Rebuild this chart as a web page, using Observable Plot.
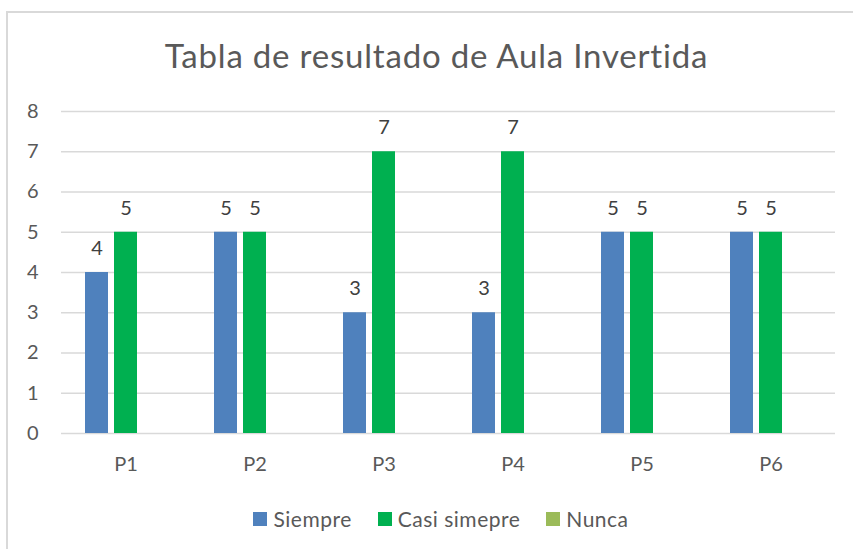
<!DOCTYPE html>
<html>
<head>
<meta charset="utf-8">
<script src="https://cdn.jsdelivr.net/npm/d3@7"></script>
<script src="https://cdn.jsdelivr.net/npm/@observablehq/plot@0.6"></script>
<style>
  html, body { margin: 0; padding: 0; background: #fff; overflow: hidden; }
  #wrap { position: relative; width: 853px; height: 549px; overflow: hidden; font-family: Lato, "Open Sans", sans-serif; }
  #frame { position: absolute; left: 6px; top: 11px; width: 900px; height: 600px; border: 2px solid #d9d9d9; box-sizing: border-box; }
  #title { position: absolute; left: 0; width: 873px; top: 35px; text-align: center; font-size: 33px; letter-spacing: 0.8px; color: #595959; }
  #chart { position: absolute; left: 0; top: 90px; }
  #legend { position: absolute; left: 0; width: 882px; top: 506px; display: flex; justify-content: center; gap: 26px; font-size: 21px; letter-spacing: 0.5px; color: #595959; }
  .item { display: flex; align-items: center; gap: 6px; }
  .sw { width: 14px; height: 14px; display: inline-block; }
</style>
</head>
<body>
<div id="wrap">
  <div id="frame"></div>
  <div id="title"></div>
  <div id="chart"></div>
  <div id="legend"></div>
</div>
<script>
const title = "Tabla de resultado de Aula Invertida";
const categories = ["P1", "P2", "P3", "P4", "P5", "P6"];
const seriesNames = ["Siempre", "Casi simepre", "Nunca"];
const siempre = [4, 5, 3, 3, 5, 5];
const casiSimepre = [5, 5, 7, 7, 5, 5];
const nunca = [null, null, null, null, null, null];
const seriesColors = ["#4f81bd", "#00b050", "#9bbb59"];
const yTicks = [0, 1, 2, 3, 4, 5, 6, 7, 8];

const seriesValues = [siempre, casiSimepre, nunca];
const data = [];
categories.forEach((c, i) => {
  seriesNames.forEach((s, j) => {
    data.push({cat: c, series: s, value: seriesValues[j][i]});
  });
});

document.getElementById("title").textContent = title;

const chart = Plot.plot({
  width: 853,
  height: 400,
  marginLeft: 60,
  marginRight: 17,
  marginTop: 21,
  marginBottom: 57,
  style: {fontFamily: "Lato, 'Open Sans', sans-serif", background: "transparent"},
  fx: {domain: categories, padding: 0, label: null},
  x: {domain: seriesNames, paddingInner: 0.2, paddingOuter: 0.8, axis: null},
  y: {domain: [0, 8], label: null},
  color: {domain: seriesNames, range: seriesColors},
  marks: [
    Plot.ruleY(yTicks, {stroke: "#d9d9d9", strokeWidth: 1.5}),
    Plot.barY(data.filter(d => d.value != null), {fx: "cat", x: "series", y: "value", fill: "series"}),
    Plot.text(data.filter(d => d.value != null), {fx: "cat", x: "series", y: "value", text: d => String(d.value), dy: -24, fontSize: 20, fill: "#404040"}),
    Plot.axisY({ticks: yTicks, tickSize: 0, tickPadding: 23, fontSize: 20, fill: "#595959", label: null}),
    Plot.axisFx({anchor: "bottom", tickSize: 0, tickPadding: 23, fontSize: 20, fill: "#595959", label: null})
  ]
});
document.getElementById("chart").appendChild(chart);

const legend = document.getElementById("legend");
seriesNames.forEach((s, i) => {
  const item = document.createElement("div");
  item.className = "item";
  const sw = document.createElement("span");
  sw.className = "sw";
  sw.style.background = seriesColors[i];
  const t = document.createElement("span");
  t.textContent = s;
  item.appendChild(sw);
  item.appendChild(t);
  legend.appendChild(item);
});
</script>
</body>
</html>
